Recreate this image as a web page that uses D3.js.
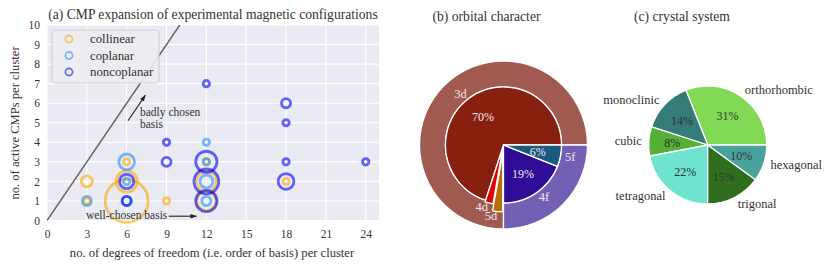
<!DOCTYPE html>
<html><head><meta charset="utf-8">
<script src="https://cdn.jsdelivr.net/npm/d3@7"></script>
<style>
html,body{margin:0;padding:0;background:#fff;}
svg{display:block;}
svg text{font-family:"Liberation Serif","Times New Roman","Noto Serif","DejaVu Serif",serif !important;}
</style></head>
<body><svg id="chart" width="831" height="268"></svg>
<script>
// ---------- data: panel (a) ----------
const categories = ["collinear", "coplanar", "noncoplanar"];
const collinearX     = [3, 3, 6, 6, 6, 9, 12, 12, 12, 18];
const collinearY     = [1, 2, 1, 2, 3, 1, 1, 2, 3, 2];
const collinearN     = [1, 3, 45, 11, 1, 1, 9, 10, 1, 1];
const coplanarX      = [3, 6, 6, 6, 12, 12, 12, 12];
const coplanarY      = [1, 1, 2, 3, 1, 2, 3, 4];
const coplanarN      = [2, 2, 1, 6, 2, 4, 1, 1];
const noncoplanarX   = [6, 6, 9, 9, 12, 12, 12, 12, 18, 18, 18, 18, 24];
const noncoplanarY   = [1, 2, 3, 4, 1, 2, 3, 7, 2, 3, 5, 6, 3];
const noncoplanarN   = [2, 5, 2, 1, 11, 15, 11, 1, 6, 1, 1, 2, 1];
const xTicks = [0, 3, 6, 9, 12, 15, 18, 21, 24];
const yTicks = [0, 1, 2, 3, 4, 5, 6, 7, 8, 9, 10];

// ---------- data: panel (b) ----------
const orbitalOuterLabels = ["d", "f"];
const orbitalOuterValues = [75, 25];
const orbitalInnerLabels = ["3d", "4d", "5d", "4f", "5f"];
const orbitalInnerValues = [70, 2.2, 2.8, 19, 6];
const orbitalExplode     = [0, 0.03, 0.15, 0, 0];

// ---------- data: panel (c) ----------
const crystalLabels = ["orthorhombic", "monoclinic", "cubic", "tetragonal", "trigonal", "hexagonal"];
const crystalValues = [31, 14, 8, 22, 15, 10];

// ---------- styles ----------
const catColor = {collinear: "#FFA500", coplanar: "#1E90FF", noncoplanar: "#0000FF"};
const orbitalOuterColors = ["#a05a4f", "#7360b5"];
const orbitalInnerColors = ["#87200f", "#e00000", "#b86e00", "#2f0c96", "#1a5a80"];
const crystalColors = ["#82d955", "#357b78", "#56b036", "#6de3d0", "#2f6e1e", "#4aa39b"];
const textColor = "#333";

const svg = d3.select("#chart");

// ================= panel (a) =================
const x = d3.scaleLinear().domain([0, 25]).range([47, 379]);
const y = d3.scaleLinear().domain([0, 10]).range([220.5, 25]);
const r = d3.scaleSqrt().domain([0, 1]).range([0, 3.2]);

const ga = svg.append("g");
ga.append("rect").attr("x", x(0)).attr("y", y(10))
  .attr("width", x(25) - x(0)).attr("height", y(0) - y(10)).attr("fill", "#EAEAF2");

// grid
ga.append("g").selectAll("line").data(xTicks).join("line")
  .attr("x1", d => x(d)).attr("x2", d => x(d)).attr("y1", y(0)).attr("y2", y(10))
  .attr("stroke", "#fff").attr("stroke-width", 1.1);
ga.append("g").selectAll("line").data(yTicks).join("line")
  .attr("x1", x(0)).attr("x2", x(25)).attr("y1", d => y(d)).attr("y2", d => y(d))
  .attr("stroke", "#fff").attr("stroke-width", 1.1);

// axes (tick labels only, seaborn style)
const xAxis = d3.axisBottom(x).tickValues(xTicks).tickSize(0).tickPadding(9);
const gx = ga.append("g").attr("transform", `translate(0,${y(0)})`).call(xAxis);
const yAxis = d3.axisLeft(y).tickValues(yTicks).tickSize(0).tickPadding(7);
const gy = ga.append("g").attr("transform", `translate(${x(0)},0)`).call(yAxis);
[gx, gy].forEach(g => {
  g.select(".domain").remove();
  g.attr("font-family", null);
  g.selectAll("text").attr("font-size", 11.5).attr("fill", textColor);
});

// clip for plot area
svg.append("clipPath").attr("id", "clipA").append("rect")
  .attr("x", x(0)).attr("y", y(10)).attr("width", x(25) - x(0)).attr("height", y(0) - y(10));

// y = x line
ga.append("line").attr("clip-path", "url(#clipA)")
  .attr("x1", x(0)).attr("y1", y(0)).attr("x2", x(10)).attr("y2", y(10))
  .attr("stroke", "#666").attr("stroke-width", 1.5);

// markers
const series = [
  {name: "collinear", xs: collinearX, ys: collinearY, ns: collinearN},
  {name: "coplanar", xs: coplanarX, ys: coplanarY, ns: coplanarN},
  {name: "noncoplanar", xs: noncoplanarX, ys: noncoplanarY, ns: noncoplanarN}
];
series.forEach(s => {
  const pts = s.xs.map((v, i) => ({x: v, y: s.ys[i], n: s.ns[i]}));
  ga.append("g").selectAll("circle").data(pts).join("circle")
    .attr("cx", d => x(d.x)).attr("cy", d => y(d.y)).attr("r", d => r(d.n))
    .attr("fill", "none").attr("stroke", catColor[s.name])
    .attr("stroke-opacity", 0.6).attr("stroke-width", 2.8);
});

// legend
const lg = ga.append("g");
lg.append("rect").attr("x", 52).attr("y", 30).attr("width", 107).attr("height", 53)
  .attr("rx", 3).attr("fill", "#ECECF1").attr("fill-opacity", 0.9)
  .attr("stroke", "#ccc").attr("stroke-width", 0.9);
categories.forEach((c, i) => {
  const yy = 39 + i * 16.5;
  lg.append("circle").attr("cx", 69).attr("cy", yy).attr("r", 3.6)
    .attr("fill", "none").attr("stroke", catColor[c]).attr("stroke-opacity", 0.6).attr("stroke-width", 1.6);
  lg.append("text").attr("x", 90).attr("y", yy).attr("dominant-baseline", "central")
    .attr("font-size", 12.8).attr("fill", textColor).text(c);
});

// annotations
const defs = svg.append("defs");
defs.append("marker").attr("id", "arr").attr("viewBox", "0 0 10 10").attr("refX", 9).attr("refY", 5)
  .attr("markerWidth", 6).attr("markerHeight", 6).attr("orient", "auto")
  .append("path").attr("d", "M0,1.5 L10,5 L0,8.5 Z").attr("fill", "#222");

const annotations = [
  {lines: ["badly chosen", "basis"], tx: 7.0, ty: 5.55, fromX: 6.1, fromY: 5.1, toX: 7.4, toY: 6.4},
  {lines: ["well-chosen basis"], tx: 2.93, ty: 0.27, fromX: 9.17, fromY: 0.22, toX: 11.25, toY: 0.22}
];
annotations.forEach(a => {
  ga.append("line").attr("x1", x(a.fromX)).attr("y1", y(a.fromY)).attr("x2", x(a.toX)).attr("y2", y(a.toY))
    .attr("stroke", "#222").attr("stroke-width", 1.1).attr("marker-end", "url(#arr)");
  a.lines.forEach((t, i) => {
    ga.append("text").attr("x", x(a.tx)).attr("y", y(a.ty) + i * 12)
      .attr("dominant-baseline", "central").attr("font-size", 11.5).attr("fill", "#333").text(t);
  });
});

// titles / labels
ga.append("text").attr("x", 213).attr("y", 14).attr("text-anchor", "middle")
  .attr("dominant-baseline", "central").attr("font-size", 13.6).attr("fill", textColor)
  .text("(a) CMP expansion of experimental magnetic configurations");
ga.append("text").attr("x", 212).attr("y", 253).attr("text-anchor", "middle")
  .attr("dominant-baseline", "central").attr("font-size", 12.6).attr("fill", textColor)
  .text("no. of degrees of freedom (i.e. order of basis) per cluster");
ga.append("text").attr("transform", "translate(15,123) rotate(-90)").attr("text-anchor", "middle")
  .attr("dominant-baseline", "central").attr("font-size", 12.6).attr("fill", textColor)
  .text("no. of active CMPs per cluster");

// ================= panel (b) =================
const bCx = 503.5, bCy = 145, bRin = 58, bRout = 84;
const pieCCW = d3.pie().sort(null).startAngle(Math.PI / 2).endAngle(Math.PI / 2 - 2 * Math.PI);
const gb = svg.append("g").attr("transform", `translate(${bCx},${bCy})`);

const outerArcs = pieCCW(orbitalOuterValues);
gb.selectAll("path.outer").data(outerArcs).join("path").attr("class", "outer")
  .attr("d", d3.arc().innerRadius(bRin).outerRadius(bRout))
  .attr("fill", (d, i) => orbitalOuterColors[i]).attr("stroke", "#fff").attr("stroke-width", 1.3);

const innerArcs = pieCCW(orbitalInnerValues);
const arcIn = d3.arc().innerRadius(0).outerRadius(bRin);
const dirOf = (d) => { const m = (d.startAngle + d.endAngle) / 2; return [Math.sin(m), -Math.cos(m)]; };
gb.selectAll("path.inner").data(innerArcs).join("path").attr("class", "inner")
  .attr("d", arcIn)
  .attr("transform", (d, i) => { const [ux, uy] = dirOf(d); const e = orbitalExplode[i] * bRin; return `translate(${ux * e},${uy * e})`; })
  .attr("fill", (d, i) => orbitalInnerColors[i]).attr("stroke", "#fff").attr("stroke-width", 1.3);

innerArcs.forEach((d, i) => {
  const [ux, uy] = dirOf(d);
  const e = orbitalExplode[i] * bRin;
  const lx = ux * (bRin * 1.08 + e), ly = uy * (bRin * 1.08 + e);
  gb.append("text").attr("x", lx).attr("y", ly)
    .attr("text-anchor", lx > 0 ? "start" : "end").attr("dominant-baseline", "central")
    .attr("font-size", 12.5).attr("fill", "#f3e8ee").text(orbitalInnerLabels[i]);
  if (orbitalInnerValues[i] >= 5) {
    gb.append("text").attr("x", ux * (bRin * 0.6 + e)).attr("y", uy * (bRin * 0.6 + e))
      .attr("text-anchor", "middle").attr("dominant-baseline", "central")
      .attr("font-size", 12).attr("fill", "#f3e8ee").text(orbitalInnerValues[i] + "%");
  }
});
svg.append("text").attr("x", 486.5).attr("y", 16).attr("text-anchor", "middle")
  .attr("dominant-baseline", "central").attr("font-size", 13.6).attr("fill", textColor)
  .text("(b) orbital character");

// ================= panel (c) =================
const cCx = 707.7, cCy = 145, cR = 59;
const gc = svg.append("g").attr("transform", `translate(${cCx},${cCy})`);
const cArcs = pieCCW(crystalValues);
gc.selectAll("path").data(cArcs).join("path")
  .attr("d", d3.arc().innerRadius(0).outerRadius(cR))
  .attr("fill", (d, i) => crystalColors[i]).attr("stroke", "#fff").attr("stroke-width", 1.3);
cArcs.forEach((d, i) => {
  const [ux, uy] = dirOf(d);
  const lx = ux * cR * 1.12, ly = uy * cR * 1.12;
  gc.append("text").attr("x", lx).attr("y", ly)
    .attr("text-anchor", lx > 0 ? "start" : "end").attr("dominant-baseline", "central")
    .attr("font-size", 12.5).attr("fill", textColor).text(crystalLabels[i]);
  gc.append("text").attr("x", ux * cR * 0.6).attr("y", uy * cR * 0.6)
    .attr("text-anchor", "middle").attr("dominant-baseline", "central")
    .attr("font-size", 12).attr("fill", textColor).text(crystalValues[i] + "%");
});
svg.append("text").attr("x", 682).attr("y", 16).attr("text-anchor", "middle")
  .attr("dominant-baseline", "central").attr("font-size", 13.6).attr("fill", textColor)
  .text("(c) crystal system");
</script></body></html>
